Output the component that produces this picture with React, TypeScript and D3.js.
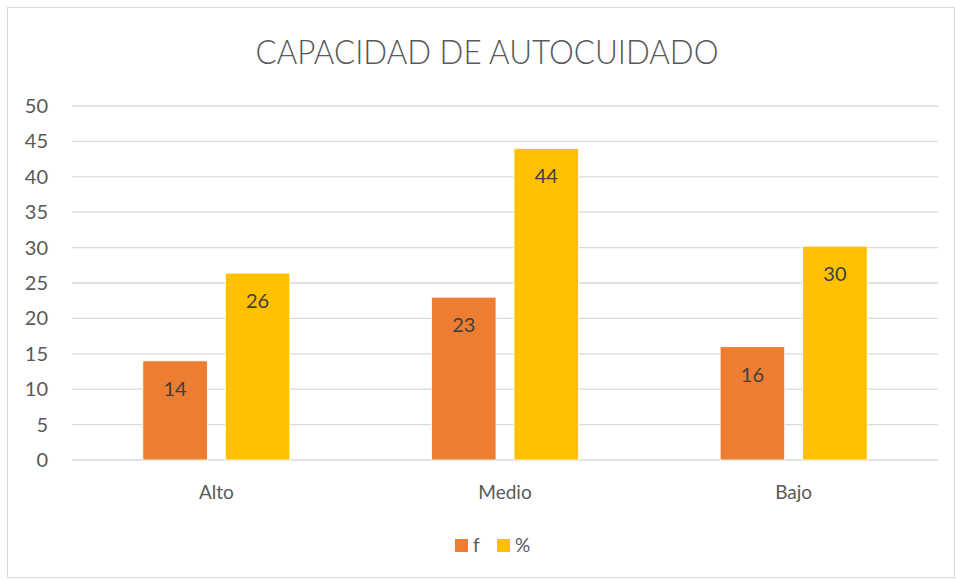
import React, { useEffect, useRef } from "react";
import * as d3 from "d3";

const categories = ["Alto", "Medio", "Bajo"];
const seriesNames = ["f", "%"];
const fValues = [14, 23, 16];
const pctValues = [26.4, 44, 30.2];
const yTicks = [0, 5, 10, 15, 20, 25, 30, 35, 40, 45, 50];
const title = "CAPACIDAD DE AUTOCUIDADO";

const colors = ["#ED7D31", "#FFC000"];
const FONT = "Lato, 'Open Sans', sans-serif";
const TEXT = "#595959";

export default function App() {
  const ref = useRef<SVGSVGElement>(null);

  useEffect(() => {
    const width = 956;
    const height = 580;
    const svg = d3.select(ref.current);
    svg.selectAll("*").remove();

    // chart area border
    svg.append("rect")
      .attr("x", 7.5).attr("y", 7.5)
      .attr("width", width - 9).attr("height", height - 10)
      .attr("fill", "#fff").attr("stroke", "#D9D9D9");

    svg.append("text")
      .attr("x", 487).attr("y", 64)
      .attr("text-anchor", "middle")
      .attr("font-family", FONT).attr("font-size", 34).attr("font-weight", 300)
      .attr("textLength", 463).attr("lengthAdjust", "spacingAndGlyphs")
      .attr("fill", TEXT)
      .text(title);

    const margin = { top: 106, left: 72, bottom: 120, right: 18 };
    const iwidth = width - margin.left - margin.right;
    const iheight = 460 - margin.top;

    const g = svg.append("g").attr("transform", `translate(${margin.left},${margin.top})`);

    const y = d3.scaleLinear().domain([0, 50]).range([iheight, 0]);
    const x = d3.scaleBand().domain(categories).range([0, iwidth]).paddingInner(0).paddingOuter(0);
    const barW = 64.5;
    const gap = 18;

    // gridlines
    g.selectAll("line.grid").data(yTicks).enter().append("line")
      .attr("class", "grid")
      .attr("x1", 0).attr("x2", iwidth)
      .attr("y1", d => y(d)).attr("y2", d => y(d))
      .attr("stroke", "#D9D9D9").attr("stroke-width", 1.3);

    // y tick labels
    g.selectAll("text.ytick").data(yTicks).enter().append("text")
      .attr("class", "ytick")
      .attr("x", -24).attr("y", d => y(d) + 7)
      .attr("text-anchor", "end")
      .attr("font-family", FONT).attr("font-size", 20).attr("fill", TEXT)
      .text(d => d);

    const rows = categories.map((c, i) => ({ c, vals: [fValues[i], pctValues[i]] }));

    rows.forEach(r => {
      const cx = (x(r.c) as number) + x.bandwidth() / 2;
      r.vals.forEach((v, s) => {
        const bx = s === 0 ? cx - gap / 2 - barW : cx + gap / 2;
        g.append("rect")
          .attr("x", bx).attr("y", y(v))
          .attr("width", barW).attr("height", iheight - y(v))
          .attr("fill", colors[s])
          .attr("stroke", "#fff").attr("stroke-width", 0.8);
        g.append("text")
          .attr("x", bx + barW / 2).attr("y", y(v) + 35)
          .attr("text-anchor", "middle")
          .attr("font-family", FONT).attr("font-size", 20).attr("fill", "#404040")
          .text(Math.round(v));
      });
      g.append("text")
        .attr("x", cx).attr("y", iheight + 39)
        .attr("text-anchor", "middle")
        .attr("font-family", FONT).attr("font-size", 19).attr("fill", TEXT)
        .text(r.c);
    });

    // legend
    const lg = svg.append("g").attr("transform", "translate(455,539)");
    let lx = 0;
    seriesNames.forEach((n, i) => {
      lg.append("rect").attr("x", lx).attr("y", 0).attr("width", 13).attr("height", 13).attr("fill", colors[i]);
      lg.append("text")
        .attr("x", lx + 18).attr("y", 13)
        .attr("font-family", FONT).attr("font-size", 19).attr("fill", TEXT)
        .text(n);
      lx += 42;
    });
  }, []);

  return (
    <svg ref={ref} width={956} height={580}
      style={{ position: "absolute", left: 0, top: 0, background: "#fff" }} />
  );
}
